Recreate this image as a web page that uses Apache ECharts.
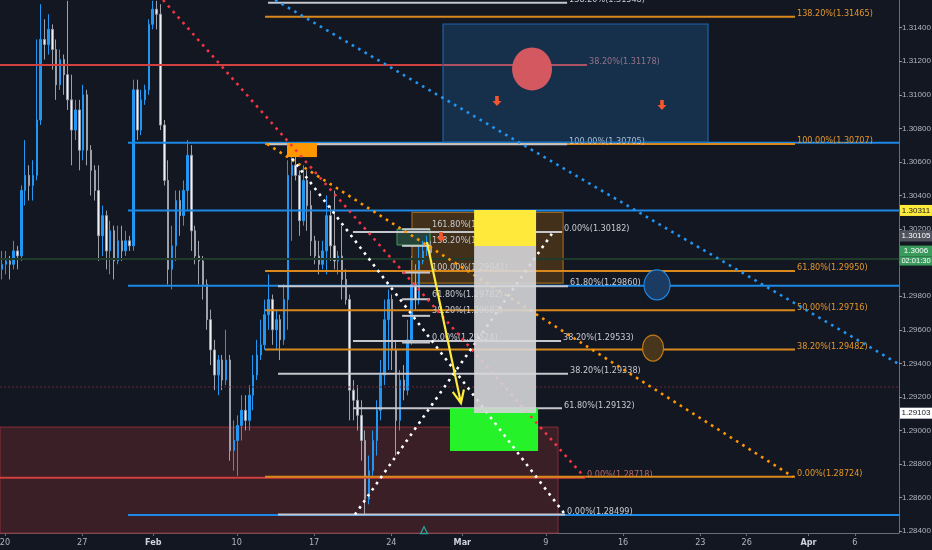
<!DOCTYPE html>
<html><head><meta charset="utf-8">
<script src="https://cdn.jsdelivr.net/npm/echarts@6/dist/echarts.min.js"></script>
<style>html,body{margin:0;padding:0;background:#131722;}#c{width:932px;height:550px;}</style>
</head><body><div id="c"></div>
<script>
const FONT = "'Liberation Sans Narrow','DejaVu Sans Condensed','Liberation Sans',sans-serif";
const AXFONT = "'Liberation Sans Narrow','Liberation Sans',Arial,sans-serif";

// ---------- axes ----------
const xTickLabels = ['20','27','Feb','10','17','24','Mar','9','16','23','26','Apr','6'];
const xTickPos    = [0, 5, 9.6, 15, 20, 25, 29.6, 35, 40, 45, 48, 52, 55];
const yTickValues = [1.284,1.286,1.288,1.290,1.292,1.294,1.296,1.298,1.300,1.302,1.304,1.306,1.308,1.310,1.312,1.314];
const X_MIN = -0.324, X_MAX = 57.86, Y_MIN = 1.28389, Y_MAX = 1.31565;

// ---------- candles (6h bars, trading-day units) ----------
const candleStartDay = -0.19, candleStepDay = 0.25;
const ohlc = [ // [open, close, low, high]
[1.2996,1.2999,1.2990,1.3007],[1.2999,1.3001,1.2993,1.3007],[1.3001,1.2999,1.2990,1.3004],[1.2999,1.3007,1.2996,1.3013],
[1.3007,1.3004,1.2996,1.3010],[1.3004,1.3043,1.3001,1.3046],[1.3043,1.3052,1.3034,1.3073],[1.3052,1.3046,1.3037,1.3058],
[1.3046,1.3052,1.3037,1.3061],[1.3052,1.3085,1.3049,1.3133],[1.3085,1.3133,1.3082,1.3154],[1.3133,1.3130,1.3121,1.3145],
[1.3130,1.3139,1.3124,1.3148],[1.3139,1.3127,1.3115,1.3142],[1.3127,1.3106,1.3097,1.3133],[1.3106,1.3121,1.3103,1.3127],
[1.3121,1.3112,1.3100,1.3124],[1.3112,1.3097,1.3091,1.3156],[1.3097,1.3079,1.3058,1.3112],[1.3079,1.3091,1.3073,1.3097],
[1.3091,1.3067,1.3055,1.3097],[1.3067,1.3100,1.3061,1.3106],[1.3100,1.3067,1.3058,1.3103],[1.3067,1.3055,1.3040,1.3070],
[1.3055,1.3043,1.3037,1.3058],[1.3043,1.3016,1.3001,1.3058],[1.3016,1.3028,1.3004,1.3034],[1.3028,1.3007,1.2996,1.3031],
[1.3007,1.3019,1.2993,1.3025],[1.3019,1.3001,1.2990,1.3022],[1.3001,1.3013,1.2999,1.3022],[1.3013,1.3007,1.3001,1.3022],
[1.3007,1.3013,1.3004,1.3019],[1.3013,1.3010,1.3007,1.3016],[1.3010,1.3103,1.3007,1.3109],[1.3103,1.3079,1.3073,1.3109],
[1.3079,1.3097,1.3076,1.3103],[1.3097,1.3103,1.3094,1.3106],[1.3103,1.3142,1.3100,1.3145],[1.3142,1.3151,1.3139,1.3156],
[1.3151,1.3148,1.3139,1.3156],[1.3148,1.3082,1.3079,1.3154],[1.3082,1.3049,1.3046,1.3085],[1.3049,1.2996,1.2987,1.3061],
[1.2996,1.3010,1.2984,1.3022],[1.3010,1.3037,1.3001,1.3043],[1.3037,1.3028,1.3016,1.3043],[1.3028,1.3043,1.3022,1.3049],
[1.3043,1.3064,1.3031,1.3073],[1.3064,1.3019,1.3007,1.3070],[1.3019,1.3004,1.2999,1.3022],[1.3004,1.3001,1.2987,1.3013],
[1.3001,1.2987,1.2978,1.3004],[1.2987,1.2966,1.2960,1.2990],[1.2966,1.2948,1.2939,1.2972],[1.2948,1.2933,1.2924,1.2954],
[1.2933,1.2942,1.2921,1.2945],[1.2942,1.2930,1.2924,1.2945],[1.2930,1.2942,1.2927,1.2960],[1.2942,1.2888,1.2882,1.2945],
[1.2888,1.2894,1.2876,1.2906],[1.2894,1.2903,1.2873,1.2909],[1.2903,1.2912,1.2894,1.2921],[1.2912,1.2906,1.2900,1.2921],
[1.2906,1.2921,1.2900,1.2927],[1.2921,1.2933,1.2912,1.2945],[1.2933,1.2945,1.2930,1.2954],[1.2945,1.2951,1.2942,1.2966],
[1.2951,1.2969,1.2948,1.2978],[1.2969,1.2978,1.2960,1.2993],[1.2978,1.2960,1.2951,1.2981],[1.2960,1.2966,1.2948,1.2972],
[1.2966,1.2954,1.2942,1.2969],[1.2954,1.2978,1.2951,1.2987],[1.2978,1.3052,1.2960,1.3061],[1.3052,1.3058,1.3013,1.3067],
[1.3058,1.3052,1.3049,1.3064],[1.3052,1.3025,1.3016,1.3055],[1.3025,1.3049,1.3022,1.3058],[1.3049,1.3034,1.3019,1.3055],
[1.3034,1.3013,1.3004,1.3043],[1.3013,1.3004,1.2999,1.3016],[1.3004,1.2999,1.2993,1.3013],[1.2999,1.3007,1.2996,1.3013],
[1.3007,1.3028,1.2993,1.3040],[1.3028,1.3010,1.3001,1.3034],[1.3010,1.3001,1.2996,1.3043],[1.3001,1.3004,1.2993,1.3007],
[1.3004,1.2990,1.2978,1.3022],[1.2990,1.2978,1.2975,1.2996],[1.2978,1.2924,1.2906,1.2981],[1.2924,1.2918,1.2906,1.2930],
[1.2918,1.2909,1.2900,1.2927],[1.2909,1.2894,1.2882,1.2918],[1.2894,1.2859,1.2850,1.2900],[1.2859,1.2876,1.2856,1.2885],
[1.2876,1.2894,1.2873,1.2900],[1.2894,1.2912,1.2885,1.2918],[1.2912,1.2933,1.2906,1.2942],[1.2933,1.2966,1.2927,1.2978],
[1.2966,1.2978,1.2936,1.2984],[1.2978,1.2948,1.2936,1.2981],[1.2948,1.2906,1.2885,1.2954],[1.2906,1.2930,1.2900,1.2936],
[1.2930,1.2924,1.2918,1.2939],[1.2924,1.2954,1.2921,1.2966],[1.2954,1.2987,1.2951,1.3004],[1.2987,1.2978,1.2972,1.2999],
[1.2978,1.3001,1.2975,1.3010],[1.3001,1.3007,1.2999,1.3013],[1.3007,1.3010,1.3004,1.3016],[1.3010,1.3006,1.3004,1.3013]
];

// ---------- horizontal drawings: [xStart, xEnd, price, label] ----------
const orangeFib = [
 [16.83,51.13,1.31465,'138.20%(1.31465)'],[16.83,51.13,1.30707,'100.00%(1.30707)'],
 [16.83,51.13,1.29950,'61.80%(1.29950)'],[16.83,51.13,1.29716,'50.00%(1.29716)'],
 [16.83,51.13,1.29482,'38.20%(1.29482)'],[16.83,51.13,1.28724,'0.00%(1.28724)']];
const redFib = [[-0.324,37.67,1.31178,'38.20%(1.31178)'],[-0.324,37.54,1.28718,'0.00%(1.28718)']];
const blueRays = [[7.96,57.86,1.30715,''],[7.96,57.86,1.30311,''],[7.96,57.86,1.29862,''],[7.96,57.86,1.28497,'']];
const whiteFibA = [
 [17.02,36.38,1.31548,'138.20%(1.31548)'],[17.02,36.38,1.30705,'100.00%(1.30705)'],
 [17.67,36.44,1.29860,'61.80%(1.29860)'],[17.67,36.44,1.29338,'38.20%(1.29338)'],
 [17.67,36.25,1.28499,'0.00%(1.28499)']];
const whiteFibB = [[22.52,36.05,1.30182,'0.00%(1.30182)'],[22.52,35.99,1.29533,'38.20%(1.29533)'],[22.52,36.05,1.29132,'61.80%(1.29132)']];
const whiteFibC = [
 [25.70,27.51,1.30199,'161.80%(1.30199)'],[25.70,27.51,1.30100,'138.20%(1.30100)'],
 [25.70,27.51,1.29941,'100.00%(1.29941)'],[25.70,27.51,1.29782,'61.80%(1.29782)'],
 [25.70,27.51,1.29683,'38.20%(1.29683)'],[25.70,27.51,1.29524,'0.00%(1.29524)']];
const prevCloseLine = [[-0.324,57.86,1.30021,'']];
const redDashLine = [[-0.324,57.86,1.29259,'']];

// ---------- trend lines: [[x1,p1],[x2,p2]] ----------
const blueTrend   = [[17.48,1.31565],[57.75,1.29401]];
const redTrend    = [[10.23,1.31565],[37.54,1.28718]];
const orangeTrend = [[16.96,1.30707],[51.00,1.28724]];
const whiteTrendA = [[18.58,1.30620],[36.25,1.28499]];
const whiteTrendB = [[22.65,1.28499],[35.47,1.30182]];
const yellowArrow = [[27.31,1.30123],[29.51,1.29163]];

// ---------- boxes: [x1, x2, pTop, pBottom] ----------
const redZone    = [[-0.324,35.79,1.29020,1.28389]];
const blueBox    = [[28.35,45.50,1.31422,1.30719]];
const brownBox   = [[26.34,36.12,1.30300,1.29878]];
const darkGreenBox = [[25.37,27.51,1.30200,1.30105]];
const orangeBox  = [[18.25,20.19,1.30713,1.30629]];
const yellowBox  = [[30.36,34.37,1.30313,1.30099]];
const greyBox    = [[30.36,34.37,1.30099,1.29104]];
const greenBox   = [[28.80,34.50,1.29133,1.28877]];

// ---------- point marks ----------
const redCircle = [[34.11,1.31154]];
const downArrows = [[31.84,1.30963],[42.52,1.30939],[28.22,1.30153]];
const blueEllipse = [[42.20,1.29867]];
const orangeEllipse = [[41.94,1.29491]];
const tealTriangle = [[27.12,1.28406]];

// ---------- price-scale tags ----------
const axisTagPrices = [1.30311, 1.30105, 1.3006, 1.29103];
const axisTagTexts  = ['1.30311','1.30105','1.3006','1.29103'];
const countdownText = '02:01:30';
const tagStyles = [
 {bg:'#ffeb3b', fg:'#131722', dy:0},
 {bg:'#50535e', fg:'#ffffff', dy:-9},
 {bg:'#3a9a5c', fg:'#ffffff', dy:-1.5, sub:true},
 {bg:'#ffffff', fg:'#131722', dy:0}];

// ================= build =================
const candleData = ohlc.map((r,i)=>[+(candleStartDay+candleStepDay*i).toFixed(3), r[0], r[1], r[2], r[3]]);

function segSeries(segs, color, width, labelColor, labelDy, z, dash){
  return {type:'custom', coordinateSystem:'cartesian2d', z:z, silent:true, clip:false,
    data: segs.map(s=>[s[0],s[1],s[2]]), encode:{x:[0,1], y:2},
    renderItem:(params, api)=>{
      const s = segs[params.dataIndex];
      const a = api.coord([s[0],s[2]]), b = api.coord([s[1],s[2]]);
      const ch = [{type:'line', shape:{x1:a[0],y1:a[1],x2:b[0],y2:b[1]},
        style:{stroke:color, lineWidth:width, lineDash: dash || null}}];
      if (s[3]) ch.push({type:'text', x:b[0]+2, y:a[1]+labelDy,
        style:{text:s[3], fill:labelColor, font:'9px '+FONT, align:'left', verticalAlign:'middle'}});
      return {type:'group', children:ch};
    }};
}
function rectSeries(rects, fill, stroke, lw, z){
  return {type:'custom', coordinateSystem:'cartesian2d', z:z, silent:true, clip:false,
    data: rects.map(r=>[r[0],r[1],r[2],r[3]]), encode:{x:[0,1], y:[2,3]},
    renderItem:(params, api)=>{
      const r = rects[params.dataIndex];
      const a = api.coord([r[0],r[2]]), b = api.coord([r[1],r[3]]);
      return {type:'rect', shape:{x:a[0], y:a[1], width:b[0]-a[0], height:b[1]-a[1]},
        style:{fill:fill, stroke:stroke||null, lineWidth:lw||0}};
    }};
}
function dotted(pts, color, z){
  return {type:'line', data:pts, showSymbol:false, symbol:'none', silent:true, z:z,
    lineStyle:{color:color, width:2.6, type:[2.6,4.8], cap:'butt'}, animation:false};
}
function mark(pts, symbol, size, color, border, z){
  return {type:'scatter', data:pts, symbol:symbol, symbolSize:size, silent:true, z:z,
    itemStyle:{color:color, borderColor:border||color, borderWidth:border?1.2:0, opacity:1}};
}

const option = {
  backgroundColor:'#131722',
  animation:false,
  grid:{left:0, right:33, top:0, bottom:17, containLabel:false, outerBoundsMode:'none'},
  xAxis:{type:'value', min:X_MIN, max:X_MAX,
    axisLine:{show:true, onZero:false, lineStyle:{color:'#6a6d78', width:1}},
    axisTick:{show:true, customValues:xTickPos, length:3, lineStyle:{color:'#6a6d78'}},
    splitLine:{show:false},
    axisLabel:{customValues:xTickPos, color:'#b2b5be', fontSize:9, fontFamily:FONT, margin:5,
      formatter:(v)=>{const i=xTickPos.findIndex(p=>Math.abs(p-v)<1e-6); if(i<0) return '';
        const t=xTickLabels[i]; return /[A-Za-z]/.test(t)?'{m|'+t+'}':t;},
      rich:{m:{fontWeight:'bold', color:'#d1d4dc', fontSize:9, fontFamily:FONT}}}},
  yAxis:{type:'value', position:'right', min:Y_MIN, max:Y_MAX,
    axisLine:{show:true, onZero:false, lineStyle:{color:'#6a6d78', width:1}},
    axisTick:{show:true, customValues:yTickValues, length:3, lineStyle:{color:'#9598a1'}},
    splitLine:{show:false},
    axisLabel:{customValues:yTickValues, color:'#b2b5be', fontSize:8, fontFamily:AXFONT, margin:3,
      formatter:(v)=>v.toFixed(5)}},
  series:[
    rectSeries(redZone, '#3a1f27', '#8c2c36', 1, 1),
    rectSeries(blueBox, 'rgba(33,150,243,0.2)', '#1f62a8', 1.2, 3),
    rectSeries(brownBox, 'rgba(255,152,0,0.2)', '#9a6418', 1.2, 1),
    rectSeries(darkGreenBox, '#27443a', '#3f9f55', 1, 1),
    {type:'candlestick', data:candleData, encode:{x:0, y:[1,2,3,4]}, barWidth:2, z:2, silent:true,
      itemStyle:{color:'#2196f3', color0:'#f0f1f4', borderColor:'#2196f3', borderColor0:'#9ea1aa', borderWidth:1}},
    segSeries(redFib, '#d0413f', 2, '#b06a6e', -3, 2.5),
    segSeries(redDashLine, '#6b2634', 1, '#000', 0, 2.5, [2,2]),
    segSeries(prevCloseLine, '#1f3b2b', 2, '#000', 0, 2.5),
    segSeries(blueRays, '#1e88e5', 2, '#000', 0, 2.6),
    segSeries(orangeFib, '#d9891b', 2, '#e3962a', -3, 2.7),
    segSeries(whiteFibA, '#c5c7cd', 2, '#c8cad0', -3, 2.8),
    segSeries(whiteFibB, '#c5c7cd', 2, '#c8cad0', -3, 2.8),
    segSeries(whiteFibC, '#c5c7cd', 2, '#c8cad0', -5, 2.8),
    rectSeries(orangeBox, '#ff9800', null, 0, 3),
    rectSeries(greenBox, '#26f22a', null, 0, 3),
    dotted(blueTrend, '#2196f3', 4),
    dotted(redTrend, '#f23645', 4),
    dotted(orangeTrend, '#ff9800', 4),
    dotted(whiteTrendA, '#ffffff', 4),
    dotted(whiteTrendB, '#ffffff', 4),
    rectSeries(yellowBox, '#ffe93b', null, 0, 5),
    rectSeries(greyBox, 'rgba(214,214,216,0.9)', null, 0, 5),
    mark(redCircle, 'circle', [40,43], '#d4585f', null, 6),
    mark(blueEllipse, 'circle', [26,30], '#1b3b63', '#1e88e5', 6),
    mark(orangeEllipse, 'circle', [21,26], '#47361c', '#c27a14', 6),
    mark(downArrows, 'path://M3,0 L7,0 L7,5 L10,5 L5,10 L0,5 L3,5 Z', [9,10], '#f4562e', null, 6),
    mark(tealTriangle, 'triangle', 7, 'rgba(0,0,0,0)', '#26a69a', 6),
    {type:'custom', coordinateSystem:'cartesian2d', z:7, silent:true, clip:false,
      data:yellowArrow, encode:{x:0,y:1},
      renderItem:(params, api)=>{
        if (params.dataIndex !== 1) return null;
        const a = api.coord(yellowArrow[0]), b = api.coord(yellowArrow[1]);
        const ang = Math.atan2(b[1]-a[1], b[0]-a[0]), L = 14, w = 0.42;
        const p1 = [b[0]-L*Math.cos(ang-w), b[1]-L*Math.sin(ang-w)];
        const p2 = [b[0]-L*Math.cos(ang+w), b[1]-L*Math.sin(ang+w)];
        const st = {stroke:'#ffeb3b', lineWidth:2.2, fill:null};
        return {type:'group', children:[
          {type:'line', shape:{x1:a[0],y1:a[1],x2:b[0],y2:b[1]}, style:st},
          {type:'polyline', shape:{points:[p1,b,p2]}, style:st}]};
      }},
    {type:'custom', coordinateSystem:'cartesian2d', z:8, silent:true, clip:false,
      data: axisTagPrices.map(p=>[X_MAX,p]), encode:{x:0,y:1},
      renderItem:(params, api)=>{
        const i = params.dataIndex, s = tagStyles[i];
        const c = api.coord([X_MAX, axisTagPrices[i]]);
        const x = c[0]+1, y = c[1]+s.dy;
        const ch = [
          {type:'rect', shape:{x:x, y:y-5.5, width:32, height:11}, style:{fill:s.bg}},
          {type:'text', x:x+16, y:y, style:{text:axisTagTexts[i], fill:s.fg, font:'8px '+AXFONT, align:'center', verticalAlign:'middle'}}];
        if (s.sub) {
          ch.push({type:'rect', shape:{x:x, y:y+5.5, width:32, height:9}, style:{fill:s.bg}});
          ch.push({type:'text', x:x+16, y:y+10, style:{text:countdownText, fill:s.fg, font:'7.5px '+AXFONT, align:'center', verticalAlign:'middle'}});
        }
        return {type:'group', children:ch};
      }}
  ]
};
const chart = echarts.init(document.getElementById('c'), null, {renderer:'canvas'});
chart.setOption(option);
</script></body></html>
